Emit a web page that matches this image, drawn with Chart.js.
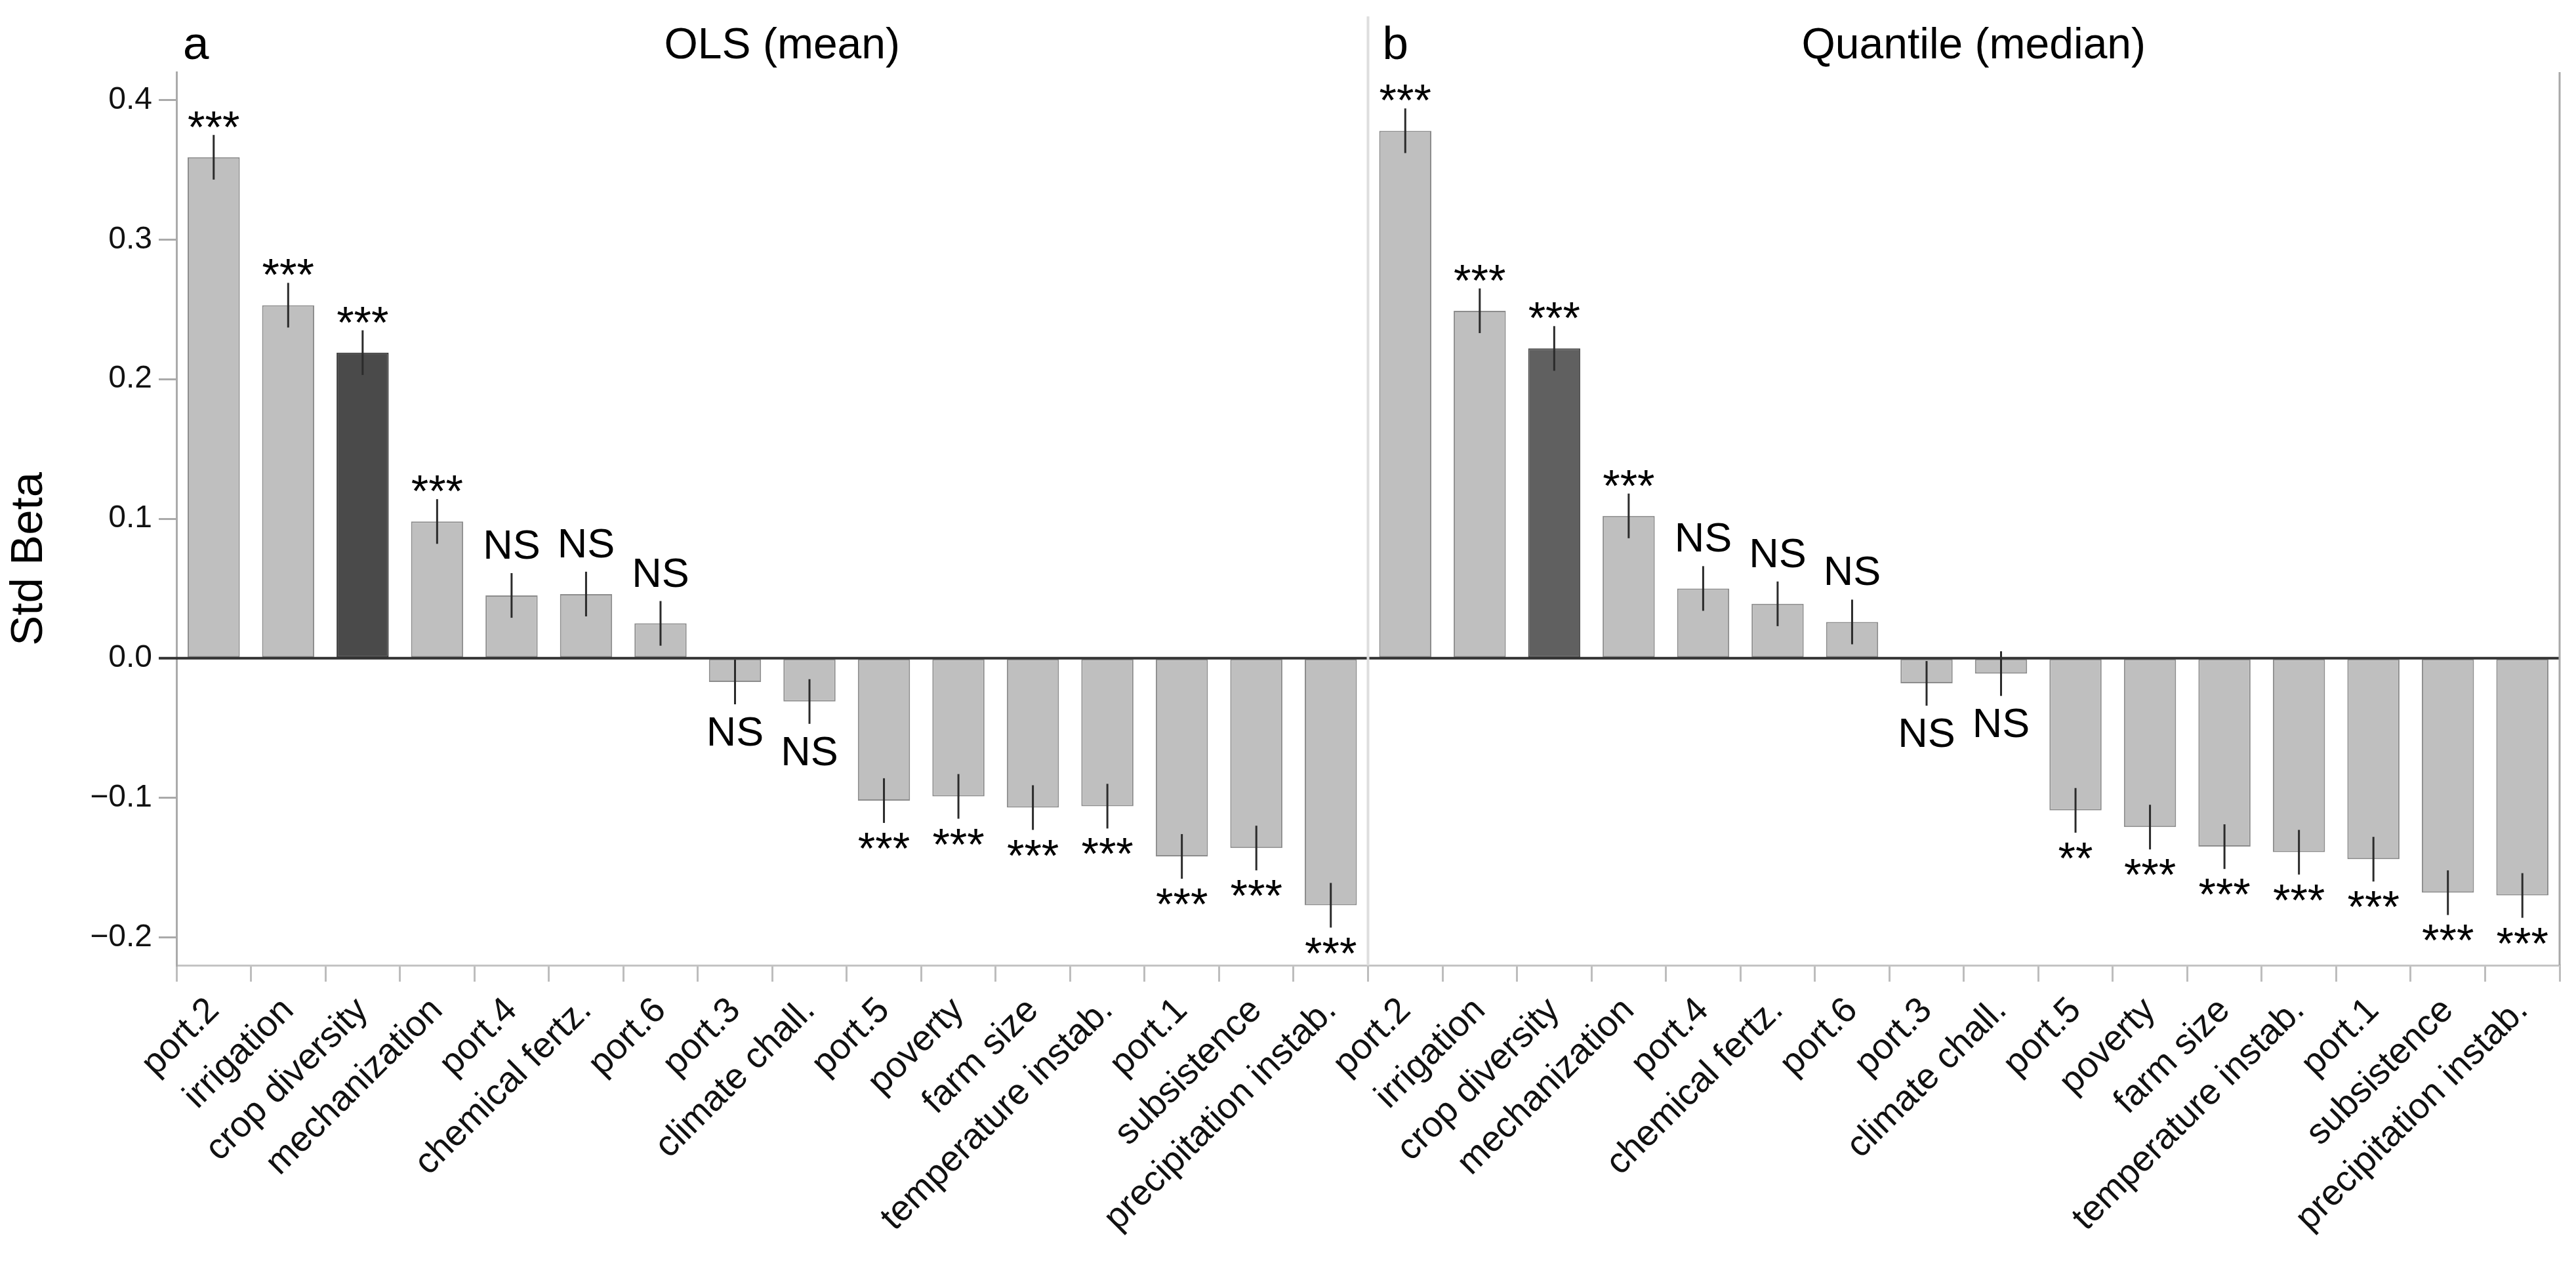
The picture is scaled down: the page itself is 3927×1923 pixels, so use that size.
<!DOCTYPE html>
<html>
<head>
<meta charset="utf-8">
<script src="https://cdn.jsdelivr.net/npm/chart.js@4"></script>
<style>
  html, body { margin: 0; padding: 0; background: #ffffff; }
  #wrap { width: 3927px; height: 1923px; }
</style>
</head>
<body>
<div id="wrap"><canvas id="c" width="3927" height="1923"></canvas></div>
<script>
// ---------- data ----------
const categories = ['port.2','irrigation','crop diversity','mechanization','port.4','chemical fertz.','port.6','port.3','climate chall.','port.5','poverty','farm size','temperature instab.','port.1','subsistence','precipitation instab.'];
const highlightCategory = 'crop diversity';

const olsBeta = [0.359, 0.253, 0.219, 0.098, 0.045, 0.046, 0.025, -0.017, -0.031, -0.102, -0.099, -0.107, -0.106, -0.142, -0.136, -0.177];
const olsErr  = [0.016, 0.016, 0.016, 0.016, 0.016, 0.016, 0.016, 0.016, 0.016, 0.016, 0.016, 0.016, 0.016, 0.016, 0.016, 0.016];
const olsSig  = ['***','***','***','***','NS','NS','NS','NS','NS','***','***','***','***','***','***','***'];

const medBeta = [0.378, 0.249, 0.222, 0.102, 0.050, 0.039, 0.026, -0.018, -0.011, -0.109, -0.121, -0.135, -0.139, -0.144, -0.168, -0.170];
const medErr  = [0.016, 0.016, 0.016, 0.016, 0.016, 0.016, 0.016, 0.016, 0.016, 0.016, 0.016, 0.016, 0.016, 0.016, 0.016, 0.016];
const medSig  = ['***','***','***','***','NS','NS','NS','NS','NS','**','***','***','***','***','***','***'];

const panelLetters = ['a', 'b'];
const panelTitles = ['OLS (mean)', 'Quantile (median)'];
const yTicks = [-0.2, -0.1, 0.0, 0.1, 0.2, 0.3, 0.4];
const yMin = -0.22, yMax = 0.42;
const yTitle = 'Std Beta';

// ---------- derived ----------
const FONT = "'Liberation Sans', Arial, Helvetica, sans-serif";
const labels = categories.concat(categories);
const values = olsBeta.concat(medBeta);
const errors = olsErr.concat(medErr);
const sigs = olsSig.concat(medSig);
const LIGHT = '#bfbfbf';
const fills = labels.map((c, i) => c === highlightCategory ? (i < categories.length ? '#4a4a4a' : '#606060') : LIGHT);
const borders = labels.map((c, i) => c === highlightCategory ? (i < categories.length ? '#3a3a3a' : '#505050') : '#8c8c8c');

const annotate = {
  id: 'annotate',
  afterDatasetsDraw(chart) {
    const ctx = chart.ctx, xs = chart.scales.x, ys = chart.scales.y, area = chart.chartArea;
    ctx.save();
    // error bars
    ctx.strokeStyle = '#2b2b2b';
    ctx.lineWidth = 3;
    values.forEach((v, i) => {
      const px = xs.getPixelForValue(i);
      ctx.beginPath();
      ctx.moveTo(px, ys.getPixelForValue(v + errors[i]));
      ctx.lineTo(px, ys.getPixelForValue(v - errors[i]));
      ctx.stroke();
    });
    // zero line
    ctx.strokeStyle = '#333333';
    ctx.lineWidth = 4;
    const y0 = ys.getPixelForValue(0);
    ctx.beginPath();
    ctx.moveTo(area.left - 27, y0);
    ctx.lineTo(area.right, y0);
    ctx.stroke();
    // significance labels
    ctx.fillStyle = '#000';
    ctx.textAlign = 'center';
    ctx.textBaseline = 'alphabetic';
    values.forEach((v, i) => {
      const px = xs.getPixelForValue(i);
      const s = sigs[i];
      const isNS = s === 'NS';
      ctx.font = (isNS ? '63px ' : '68px ') + FONT;
      if (v >= 0) {
        const top = ys.getPixelForValue(v + errors[i]);
        ctx.fillText(s, px, isNS ? top - 22 : top + 11);
      } else {
        const bot = ys.getPixelForValue(v - errors[i]);
        ctx.fillText(s, px, isNS ? bot + 63 : bot + 62);
      }
    });
    ctx.restore();
  },
  afterDraw(chart) {
    const ctx = chart.ctx, xs = chart.scales.x, area = chart.chartArea;
    const n = categories.length;
    const sep = (xs.getPixelForValue(n - 1) + xs.getPixelForValue(n)) / 2;
    ctx.save();
    // separator between panels
    ctx.strokeStyle = '#dedede';
    ctx.lineWidth = 4;
    ctx.beginPath();
    ctx.moveTo(sep, 25);
    ctx.lineTo(sep, area.bottom);
    ctx.stroke();
    // right border
    ctx.strokeStyle = '#a8a8a8';
    ctx.lineWidth = 3;
    ctx.beginPath();
    ctx.moveTo(area.right, area.top);
    ctx.lineTo(area.right, area.bottom);
    ctx.stroke();
    // y-axis title
    ctx.fillStyle = '#000';
    ctx.save();
    ctx.translate(45, area.top + (area.bottom - area.top) * 0.545);
    ctx.rotate(-Math.PI / 2);
    ctx.textAlign = 'center';
    ctx.textBaseline = 'middle';
    ctx.font = '69px ' + FONT;
    ctx.fillText(yTitle, 0, 0);
    ctx.restore();
    // panel letters and titles
    ctx.textBaseline = 'alphabetic';
    const starts = [area.left, sep];
    const ends = [sep, area.right];
    for (let p = 0; p < 2; p++) {
      ctx.textAlign = 'left';
      ctx.font = '71px ' + FONT;
      ctx.fillText(panelLetters[p], starts[p] + (p === 0 ? 10 : 22), 90);
      ctx.textAlign = 'center';
      ctx.font = '66px ' + FONT;
      ctx.fillText(panelTitles[p], (starts[p] + ends[p]) / 2 + 15, 89);
    }
    ctx.restore();
  }
};

new Chart(document.getElementById('c'), {
  type: 'bar',
  data: {
    labels: labels,
    datasets: [{
      data: values,
      backgroundColor: fills,
      borderColor: borders,
      borderWidth: 2,
      borderSkipped: false,
      barPercentage: 0.7,
      categoryPercentage: 1.0
    }]
  },
  options: {
    responsive: false,
    devicePixelRatio: 1,
    animation: false,
    layout: { padding: { top: 110, right: 25, bottom: 0, left: 0 } },
    plugins: { legend: { display: false }, tooltip: { enabled: false } },
    scales: {
      x: {
        offset: true,
        grid: { display: true, offset: true, drawOnChartArea: false, drawTicks: true, tickLength: 25, color: '#bdbdbd', lineWidth: 3 },
        border: { display: true, color: '#c4c4c4', width: 3 },
        ticks: {
          autoSkip: false, minRotation: 45, maxRotation: 45, padding: 12,
          color: '#111', font: { family: FONT, size: 55 }
        },
        afterFit(scale) { scale.height = 1923 - 1472; }
      },
      y: {
        min: yMin, max: yMax,
        afterBuildTicks(scale) { scale.ticks = yTicks.map(v => ({ value: v })); },
        grid: { display: true, drawOnChartArea: false, drawTicks: true, tickLength: 27, color: '#aaaaaa', lineWidth: 3 },
        border: { display: true, color: '#aaaaaa', width: 3 },
        ticks: {
          padding: 10, color: '#111', font: { family: FONT, size: 48 },
          callback: (v) => (v < 0 ? '\u2212' : '') + Math.abs(v).toFixed(1)
        },
        title: { display: false },
        afterFit(scale) { scale.width = 269; }
      }
    }
  },
  plugins: [annotate]
});
</script>
</body>
</html>
